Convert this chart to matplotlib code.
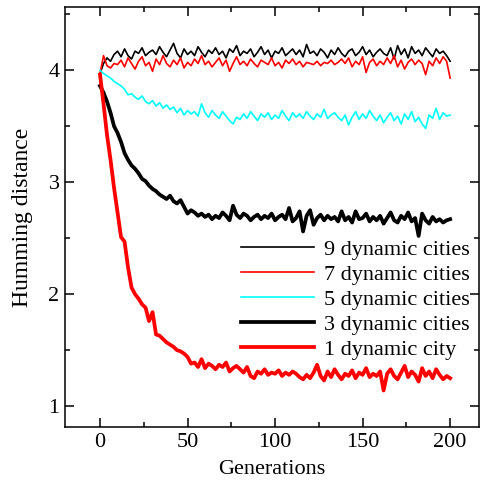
import numpy as np
import matplotlib
matplotlib.use('Agg')
import matplotlib.pyplot as plt
from matplotlib.ticker import MultipleLocator

# generations sampled every 2 steps
gens = np.arange(0, 201, 2)

c9 = [3.97, 4.06, 4.11, 4.08, 4.14, 4.17, 4.12, 4.19, 4.13, 4.10,
      4.17, 4.15, 4.20, 4.13, 4.16, 4.18, 4.14, 4.21, 4.16, 4.12,
      4.18, 4.24, 4.15, 4.11, 4.19, 4.14, 4.17, 4.13, 4.21, 4.16,
      4.12, 4.18, 4.15, 4.20, 4.14, 4.17, 4.11, 4.19, 4.16, 4.22,
      4.13, 4.17, 4.15, 4.19, 4.12, 4.16, 4.21, 4.14, 4.18, 4.11,
      4.17, 4.15, 4.20, 4.13, 4.16, 4.19, 4.14, 4.18, 4.12, 4.23,
      4.15, 4.17, 4.13, 4.19, 4.16, 4.11, 4.18, 4.14, 4.20, 4.15,
      4.12, 4.17, 4.19, 4.13, 4.16, 4.21, 4.14, 4.18, 4.12, 4.16,
      4.19, 4.15, 4.13, 4.20, 4.10, 4.22, 4.14, 4.19, 4.11, 4.21,
      4.15, 4.18, 4.13, 4.20, 4.16, 4.12, 4.19, 4.15, 4.17, 4.13,
      4.08]

c7 = [3.97, 4.13, 4.04, 4.02, 4.06, 4.05, 4.09, 4.03, 4.11, 4.06,
      4.01, 4.08, 4.12, 4.04, 4.07, 3.99, 4.10, 4.05, 4.13, 4.06,
      4.03, 4.09, 4.05, 4.11, 4.02, 4.07, 4.04, 4.10, 4.06, 4.13,
      4.05, 4.08, 4.03, 4.07, 4.11, 4.04, 4.09, 3.99, 4.06, 4.12,
      4.05, 4.08, 4.04, 4.10, 4.06, 4.03, 4.09, 4.07, 4.05, 4.11,
      4.04, 4.07, 4.02, 4.09, 4.06, 4.10, 4.05, 4.08, 4.03, 4.07,
      4.06, 4.05, 4.08, 4.04, 4.07, 4.06, 4.09, 4.05, 4.07, 4.10,
      4.06, 4.11, 4.03, 4.08, 4.05, 4.12, 3.98, 4.07, 4.10, 4.04,
      4.08, 4.05, 4.11, 4.06, 4.13, 4.03, 4.09, 4.01, 4.07, 4.10,
      4.05, 4.09, 4.06, 3.96, 4.08, 4.04, 4.11, 4.06, 4.12, 4.08,
      3.93]

c5 = [4.00, 3.97, 3.95, 3.93, 3.90, 3.88, 3.86, 3.83, 3.78, 3.79,
      3.76, 3.74, 3.77, 3.72, 3.70, 3.73, 3.68, 3.71, 3.66, 3.69,
      3.65, 3.67, 3.62, 3.66, 3.60, 3.64, 3.61, 3.63, 3.59, 3.70,
      3.62, 3.58, 3.64, 3.60, 3.57, 3.63, 3.59, 3.55, 3.52, 3.58,
      3.56, 3.61, 3.57, 3.63, 3.59, 3.55, 3.61, 3.58, 3.62, 3.56,
      3.60, 3.57, 3.64, 3.59, 3.55, 3.62, 3.58, 3.61, 3.57, 3.63,
      3.59, 3.56, 3.61, 3.58, 3.65, 3.57, 3.60, 3.62, 3.58, 3.55,
      3.60, 3.51, 3.58, 3.63, 3.56, 3.61, 3.57, 3.64, 3.59, 3.55,
      3.60, 3.53, 3.58, 3.62, 3.55, 3.59, 3.52, 3.61, 3.56, 3.63,
      3.54, 3.58, 3.52, 3.48, 3.60, 3.57, 3.66, 3.56, 3.62, 3.59,
      3.60]

c3 = [3.86, 3.80, 3.72, 3.62, 3.50, 3.44, 3.36, 3.26, 3.20, 3.15,
      3.12, 3.08, 3.03, 3.01, 2.97, 2.94, 2.92, 2.89, 2.87, 2.85,
      2.88, 2.83, 2.81, 2.84, 2.78, 2.72, 2.75, 2.73, 2.70, 2.72,
      2.69, 2.71, 2.67, 2.70, 2.68, 2.73, 2.70, 2.66, 2.79, 2.71,
      2.68, 2.72, 2.70, 2.66, 2.69, 2.71, 2.67, 2.70, 2.68, 2.72,
      2.66, 2.69, 2.71, 2.67, 2.77, 2.65, 2.68, 2.74, 2.56, 2.70,
      2.75, 2.62, 2.68, 2.71, 2.66, 2.70, 2.67, 2.69, 2.65, 2.74,
      2.66, 2.69, 2.64, 2.74, 2.67, 2.68, 2.72, 2.65, 2.69, 2.66,
      2.70, 2.63, 2.68, 2.73, 2.66, 2.64, 2.70, 2.67, 2.73, 2.65,
      2.68, 2.52, 2.72, 2.66, 2.63, 2.69, 2.65, 2.67, 2.64, 2.66,
      2.67]

c1 = [3.96, 3.70, 3.42, 3.20, 2.95, 2.73, 2.51, 2.47, 2.24, 2.06,
      2.00, 1.96, 1.91, 1.88, 1.76, 1.84, 1.64, 1.63, 1.60, 1.57,
      1.55, 1.53, 1.50, 1.49, 1.47, 1.44, 1.38, 1.39, 1.35, 1.42,
      1.34, 1.38, 1.36, 1.33, 1.37, 1.35, 1.39, 1.31, 1.34, 1.36,
      1.33, 1.30, 1.35, 1.27, 1.25, 1.31, 1.29, 1.33, 1.28, 1.30,
      1.29, 1.32, 1.27, 1.30, 1.28, 1.31, 1.29, 1.26, 1.24, 1.28,
      1.25, 1.30, 1.37, 1.27, 1.23, 1.31, 1.26, 1.33, 1.28, 1.24,
      1.29, 1.27, 1.32, 1.25, 1.30, 1.28, 1.34, 1.26, 1.29, 1.27,
      1.31, 1.14, 1.29, 1.33, 1.27, 1.24, 1.30, 1.36, 1.26, 1.31,
      1.28, 1.22, 1.34, 1.27, 1.31, 1.25, 1.33, 1.28, 1.24, 1.27,
      1.25]

labels = ['9 dynamic cities', '7 dynamic cities', '5 dynamic cities',
          '3 dynamic cities', '1 dynamic city']

plt.rcParams['font.family'] = ['Liberation Serif', 'DejaVu Serif']
plt.rcParams['font.size'] = 16

fig = plt.figure(figsize=(4.82, 4.87), dpi=100)
ax = fig.add_axes([0.1349, 0.1222, 0.8589, 0.8624])

ax.plot(gens, c9, color='black', lw=1.2, label=labels[0])
ax.plot(gens, c7, color='red', lw=1.2, label=labels[1])
ax.plot(gens, c5, color='cyan', lw=1.2, label=labels[2])
ax.plot(gens, c3, color='black', lw=2.7, label=labels[3])
ax.plot(gens, c1, color='red', lw=2.7, label=labels[4])

ax.set_xlim(-20, 216.5)
ax.set_ylim(0.81, 4.56)
ax.xaxis.set_major_locator(MultipleLocator(50))
ax.xaxis.set_minor_locator(MultipleLocator(25))
ax.yaxis.set_major_locator(MultipleLocator(1))
ax.yaxis.set_minor_locator(MultipleLocator(0.5))
ax.tick_params(which='both', direction='in', top=True, right=True, width=1.1)
ax.tick_params(which='major', length=6.5, labelsize=16, pad=4)
ax.tick_params(which='minor', length=3.5)
for s in ax.spines.values():
    s.set_linewidth(1.1)

ax.set_xlabel('Generations', fontsize=16, labelpad=6)
ax.set_ylabel('Humming distance', fontsize=17, labelpad=11)

ax.legend(loc='lower right', bbox_to_anchor=(1.01, 0.13), frameon=False,
          fontsize=16, handlelength=3.3, handletextpad=0.45, labelspacing=0.2,
          borderaxespad=0.2)

plt.savefig('out.png', dpi=100)
